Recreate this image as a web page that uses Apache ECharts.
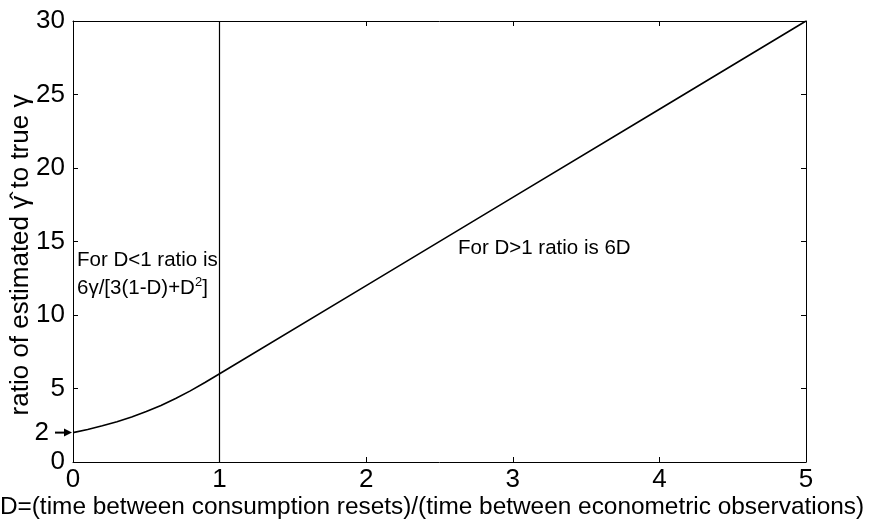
<!DOCTYPE html>
<html><head><meta charset="utf-8">
<script src="https://cdn.jsdelivr.net/npm/echarts@6/dist/echarts.min.js"></script>
<style>html,body{margin:0;padding:0;background:#fff}#c{width:869px;height:522px}</style>
</head><body><div id="c"></div>
<script>
var dValues = [0, 0.1, 0.2, 0.3, 0.4, 0.5, 0.6, 0.7, 0.8, 0.9, 1.0, 2, 3, 4, 5];
var ratioValues = [2.0, 2.21, 2.46, 2.74, 3.06, 3.43, 3.85, 4.32, 4.84, 5.41, 6.0, 12, 18, 24, 30];
var yLabelValues = [0, 2, 5, 10, 15, 20, 25, 30];
var markedD = 1;
var markedRatio = 2;

var font = 'Liberation Sans, Arial, Helvetica, sans-serif';
var chart = echarts.init(document.getElementById('c'));
var pts = dValues.map(function (d, i) { return [d, ratioValues[i]]; });

function axisLineStyle() { return { show: true, onZero: false, lineStyle: { color: '#000', width: 1 } }; }
function tick() { return { show: true, inside: true, length: 5, lineStyle: { color: '#000', width: 1 } }; }

chart.setOption({
  animation: false,
  backgroundColor: '#fff',
  grid: { left: 73, right: 63, top: 21, bottom: 60, containLabel: false },
  xAxis: [{
    type: 'value', min: 0, max: 5, interval: 1, position: 'bottom',
    axisLine: axisLineStyle(), axisTick: tick(),
    axisLabel: { color: '#000', fontSize: 26, fontFamily: font, margin: 5 },
    splitLine: { show: false }
  }, {
    type: 'value', min: 0, max: 5, interval: 1, position: 'top',
    axisLine: axisLineStyle(), axisTick: tick(),
    axisLabel: { show: false }, splitLine: { show: false }
  }],
  yAxis: [{
    type: 'value', min: 0, max: 30, interval: 5, position: 'left',
    axisLine: axisLineStyle(), axisTick: tick(),
    axisLabel: {
      customValues: yLabelValues, color: '#000', fontSize: 26, fontFamily: font, margin: 8,
      formatter: function (v) { return v === markedRatio ? '{p|' + v + '}' : String(v); },
      rich: { p: { fontSize: 26, fontFamily: font, color: '#000', padding: [0, 16, 0, 0] } }
    },
    splitLine: { show: false }
  }, {
    type: 'value', min: 0, max: 30, interval: 5, position: 'right',
    axisLine: axisLineStyle(), axisTick: tick(),
    axisLabel: { show: false }, splitLine: { show: false }
  }],
  series: [{
    type: 'line', data: pts, showSymbol: false, smooth: false,
    lineStyle: { color: '#000', width: 1.6 },
    markLine: {
      silent: true, animation: false, symbol: 'none',
      data: [{ xAxis: markedD }],
      label: { show: false },
      lineStyle: { color: '#000', width: 1.2, type: 'solid' }
    }
  }]
});

var p = chart.convertToPixel({ xAxisIndex: 0, yAxisIndex: 0 }, [0, markedRatio]);
chart.setOption({
  graphic: [
    { type: 'line', shape: { x1: p[0] - 18, y1: p[1], x2: p[0] - 6, y2: p[1] }, style: { stroke: '#000', lineWidth: 2 } },
    { type: 'polygon', shape: { points: [[p[0] - 1, p[1]], [p[0] - 9, p[1] - 4], [p[0] - 9, p[1] + 4]] }, style: { fill: '#000' } },
    { type: 'text', x: 77, y: 260, style: { text: 'For D<1 ratio is', font: '20.5px ' + font, fill: '#000', verticalAlign: 'middle' } },
    { type: 'text', x: 77, y: 288, style: {
        text: '6γ/[3(1-D)+D{s|2}]', font: '20.5px ' + font, fill: '#000', verticalAlign: 'middle',
        rich: { s: { fontSize: 13, fontFamily: font, verticalAlign: 'top', padding: [0, 0, 11, 0], fill: '#000' } } } },
    { type: 'text', x: 458, y: 248, style: { text: 'For D>1 ratio is 6D', font: '20.5px ' + font, fill: '#000', verticalAlign: 'middle' } },
    { type: 'text', x: 21, y: 255, rotation: Math.PI / 2, style: {
        text: 'ratio of estimated γ\u0302 to true γ', font: '26px ' + font, fill: '#000',
        align: 'center', verticalAlign: 'middle' } },
    { type: 'text', x: 432, y: 507, style: {
        text: 'D=(time between consumption resets)/(time between econometric observations)',
        font: '24.4px ' + font, fill: '#000', align: 'center', verticalAlign: 'middle' } }
  ]
});
</script></body></html>
